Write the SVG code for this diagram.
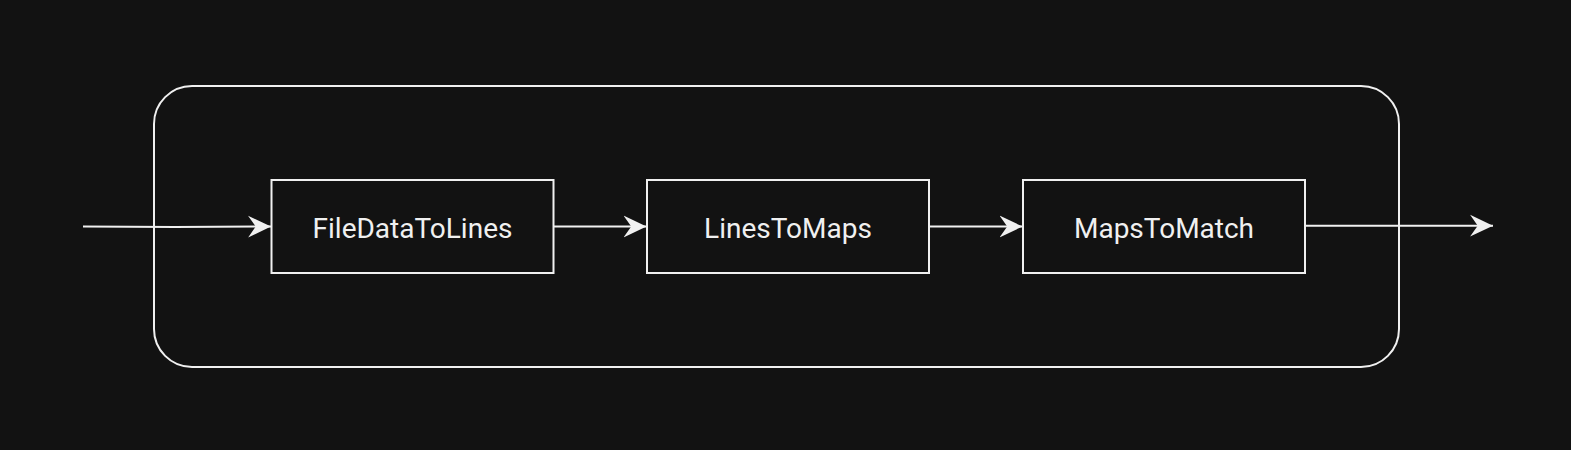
<svg xmlns="http://www.w3.org/2000/svg" width="1571" height="450" viewBox="0 0 1571 450">
<defs>
<marker id="arr" markerUnits="userSpaceOnUse" markerWidth="24" markerHeight="24" viewBox="0 0 22 22" refX="21" refY="11" orient="auto">
<path d="M0,1 L21,11 L0,21 L7,11 Z" fill="#f0f0f0"/>
</marker>
<style>
.frame{fill:none;stroke:#f0f0f0;stroke-width:2}
.box{fill:#121212;stroke:#f0f0f0;stroke-width:2}
.lbl{font-family:Roboto,"Liberation Sans",sans-serif;font-size:28px;fill:#f0f0f0;text-anchor:middle;dominant-baseline:central}
.con{fill:none;stroke:#f0f0f0;stroke-width:2;marker-end:url(#arr)}
</style>
</defs>
<rect width="1571" height="450" fill="#121212"/>
<g id="container"><rect class="frame" x="154" y="86" width="1245" height="281" rx="38" ry="38"/></g>
<g id="connectors">
<path class="con" d="M83,226.5 L175,227 L271,226.5"/>
<path class="con" d="M553,226.5 L646.5,226.5"/>
<path class="con" d="M930,226.5 L1022.5,226.5"/>
<path class="con" d="M1305.5,225.7 L1493,225.7"/>
</g>
<g id="n1"><rect class="box" x="271.5" y="180" width="282" height="93"/><text class="lbl" x="412.5" y="228.5">FileDataToLines</text></g>
<g id="n2"><rect class="box" x="647" y="180" width="282" height="93"/><text class="lbl" x="788" y="228.5">LinesToMaps</text></g>
<g id="n3"><rect class="box" x="1023" y="180" width="282" height="93"/><text class="lbl" x="1164" y="228.5">MapsToMatch</text></g>
</svg>
